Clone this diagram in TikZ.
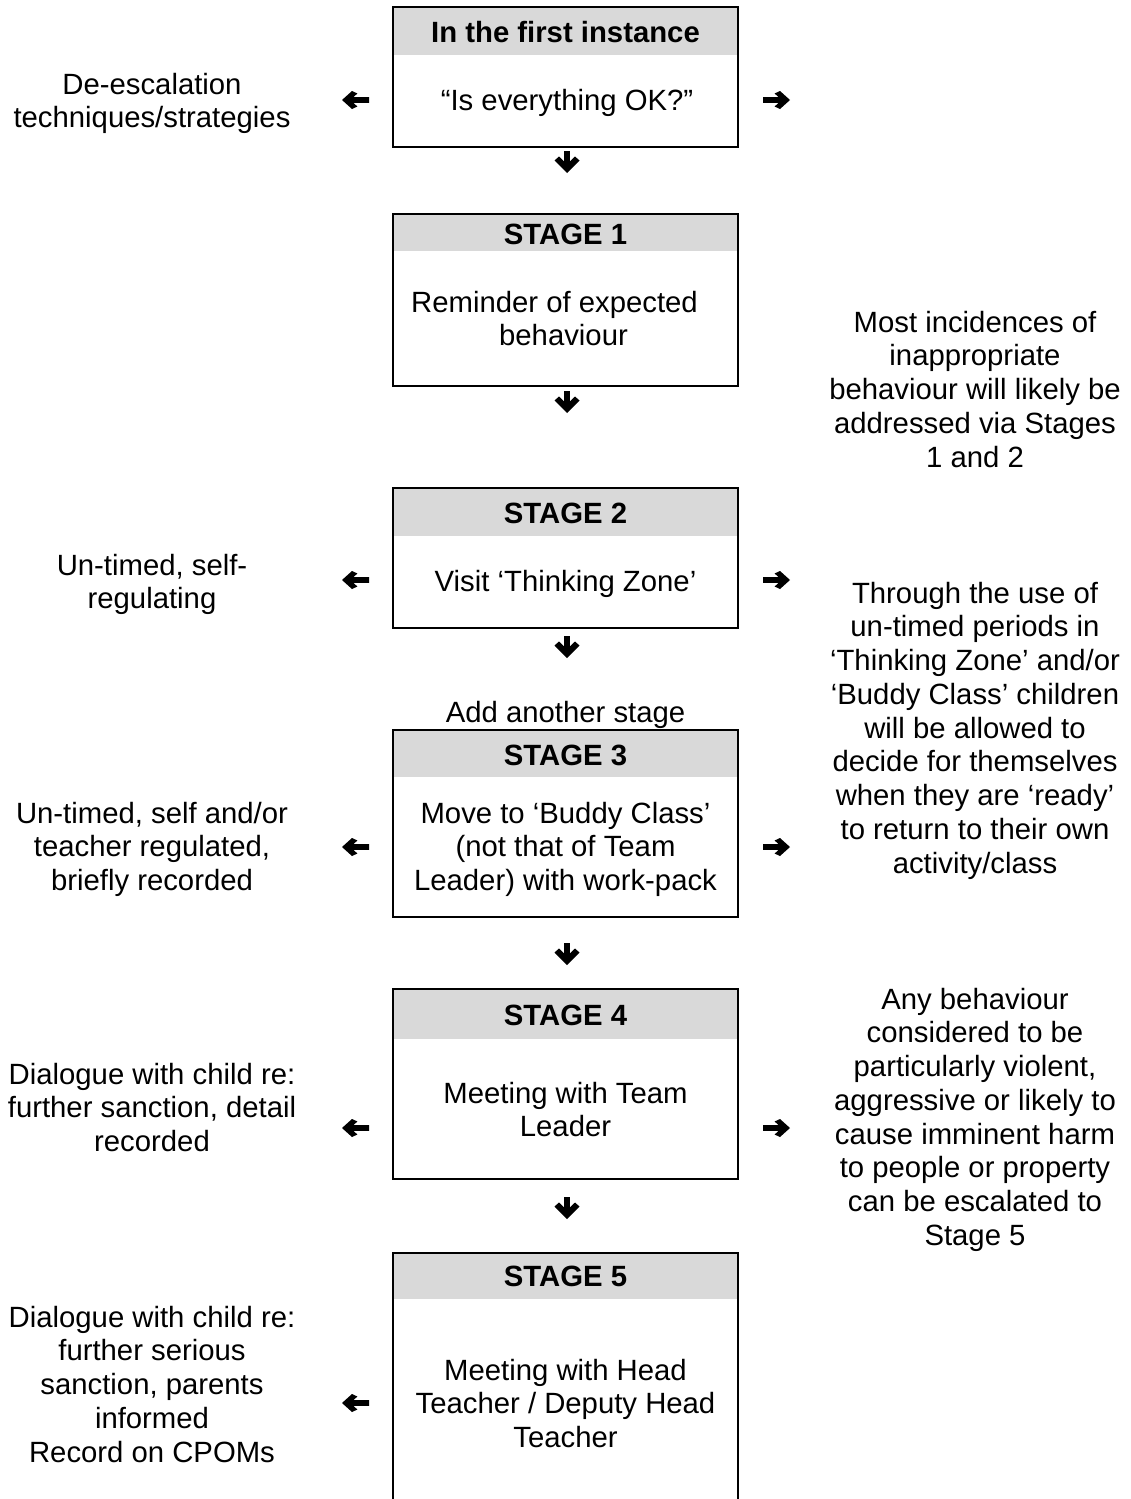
\documentclass[tikz,border=0pt]{standalone}
\usepackage{fontspec}
\setmainfont{Liberation Sans}
\definecolor{hdrgray}{HTML}{D9D9D9}
\newcommand{\tstrut}{\rule{0pt}{25pt}}
\begin{document}
\begin{tikzpicture}[x=1pt,y=-1pt,
  every node/.style={font=\fontsize{29.3}{33.75}\selectfont},
  txt/.style={inner sep=0pt, outer sep=0pt, align=center, anchor=north},
  hdtxt/.style={txt, font=\fontsize{29.3}{33.75}\selectfont\bfseries},
  stagebox/.style={draw, line width=2pt, minimum width=345pt, minimum height=#1, inner sep=0pt},
  hdr/.style={path picture={\fill[hdrgray] (path picture bounding box.north west) rectangle ([yshift=-#1]path picture bounding box.north east);}},
  harr/.pic={\fill (0,2.8) -- (15.7,2.8) -- (11.6,6.5) -- (17,9) -- (27,0) -- (17,-9) -- (11.6,-6.5) -- (15.7,-2.8) -- (0,-2.8) -- cycle;},
  darr/.pic={\fill (-2.8,0) -- (2.8,0) -- (2.8,10.5) -- (8,5.5) -- (12.5,9.5) -- (0,22) -- (-12.5,9.5) -- (-8,5.5) -- (-2.8,10.5) -- cycle;}
]
\clip (0,0) rectangle (1131,1499);
\fill[white] (0,0) rectangle (1131,1499);

% ---- boxes ----
\node[stagebox=140pt, hdr=48pt] (s0) at (565.5,77) {};
\node[stagebox=172pt, hdr=37pt] (s1) at (565.5,300) {};
\node[stagebox=140pt, hdr=48pt] (s2) at (565.5,558) {};
\node[stagebox=187pt, hdr=47pt] (s3) at (565.5,823.5) {};
\node[stagebox=190pt, hdr=50pt] (s4) at (565.5,1084) {};
\node[stagebox=267pt, hdr=46pt] (s5) at (565.5,1386.5) {};

% ---- box texts ----
\node[hdtxt] (s0h) at (565.5,17) {\tstrut In the first instance};
\node[txt] (s0b) at (567,85) {\tstrut “Is everything OK?”};
\node[hdtxt] (s1h) at (565.5,219) {\tstrut STAGE 1};
\node[txt] (s1b) at (565.5,287) {\tstrut Reminder of expected\hspace*{22pt}\\behaviour\hspace*{4pt}};
\node[hdtxt] (s2h) at (565.5,498) {\tstrut STAGE 2};
\node[txt] (s2b) at (565.5,566) {\tstrut Visit ‘Thinking Zone’};
\node[txt] (add) at (565.5,697) {\tstrut Add another stage};
\node[hdtxt] (s3h) at (565.5,740) {\tstrut STAGE 3};
\node[txt] (s3b) at (565.5,798) {\tstrut Move to ‘Buddy Class’\\(not that of Team\\Leader) with work-pack};
\node[hdtxt] (s4h) at (565.5,1000) {\tstrut STAGE 4};
\node[txt] (s4b) at (565.5,1078) {\tstrut Meeting with Team\\Leader};
\node[hdtxt] (s5h) at (565.5,1261) {\tstrut STAGE 5};
\node[txt] (s5b) at (565.5,1355) {\tstrut Meeting with Head\\Teacher / Deputy Head\\Teacher};

% ---- left notes ----
\node[txt] (l0) at (152,69) {\tstrut De-escalation\\techniques/strategies};
\node[txt] (l2) at (152,550) {\tstrut Un-timed, self-\\regulating};
\node[txt] (l3) at (152,798) {\tstrut Un-timed, self and/or\\teacher regulated,\\briefly recorded};
\node[txt] (l4) at (152,1059) {\tstrut Dialogue with child re:\\further sanction, detail\\recorded};
\node[txt] (l5) at (152,1302) {\tstrut Dialogue with child re:\\further serious\\sanction, parents\\informed\\Record on CPOMs};

% ---- right notes ----
\node[txt] (r1) at (975,307) {\tstrut Most incidences of\\inappropriate\\behaviour will likely be\\addressed via Stages\\1 and 2};
\node[txt] (r2) at (975,578) {\tstrut Through the use of\\un-timed periods in\\‘Thinking Zone’ and/or\\‘Buddy Class’ children\\will be allowed to\\decide for themselves\\when they are ‘ready’\\to return to their own\\activity/class};
\node[txt] (r4) at (975,984) {\tstrut Any behaviour\\considered to be\\particularly violent,\\aggressive or likely to\\cause imminent harm\\to people or property\\can be escalated to\\Stage 5};

% ---- arrow glyphs ----
\pic[rotate=180] at (369,100) {harr};
\pic at (763,100) {harr};
\pic at (567,151) {darr};
\pic at (567,391) {darr};
\pic[rotate=180] at (369,580) {harr};
\pic at (763,580) {harr};
\pic at (567,636) {darr};
\pic[rotate=180] at (369,847) {harr};
\pic at (763,847) {harr};
\pic at (567,943) {darr};
\pic[rotate=180] at (369,1128) {harr};
\pic at (763,1128) {harr};
\pic at (567,1197) {darr};
\pic[rotate=180] at (369,1403) {harr};
\end{tikzpicture}
\end{document}
